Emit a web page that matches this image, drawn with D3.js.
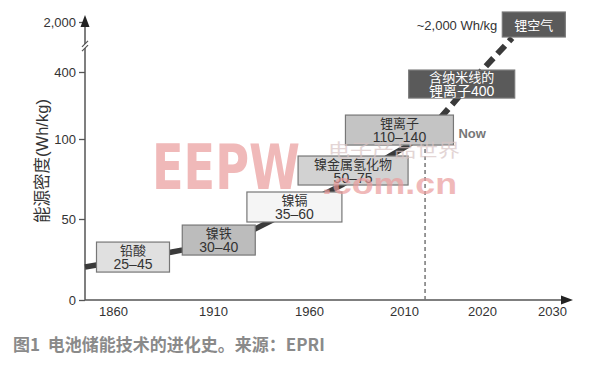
<!DOCTYPE html>
<html>
<head>
<meta charset="utf-8">
<script src="https://cdn.jsdelivr.net/npm/d3@7"></script>
<style>
  body { margin: 0; background: #fff; }
  svg text { font-family: "Liberation Sans", "Noto Sans CJK SC", sans-serif; }
</style>
</head>
<body>
<svg id="chart" width="593" height="370"></svg>
<script>
// axis ticks
var xTicks = [1860, 1910, 1960, 2010, 2020, 2030];
var yTicks = [0, 50, 100, 400, 2000];

// battery technology boxes (centre year / centre value)
var techLine1 = ["铅酸", "镍铁", "镍镉", "镍金属氢化物", "锂离子", "含纳米线的", "锂空气"];
var techLine2 = ["25–45", "30–40", "35–60", "50–75", "110–140", "锂离子400", ""];
var techYears = [1870, 1913, 1952.4, 1983.2, 2007.6, 2017.4, 2027.4];
var techValues = [26.5, 37, 57.5, 80.3, 140, 346, 1920];

// trend line, solid part then projected (dashed) part
var trendYears = [1846, 1889.5, 1895, 1931.9, 1977.4, 2002.6, 2010.4, 2013.3];
var trendValues = [20.4, 29.6, 30.9, 43.8, 71.3, 89.4, 95.6, 140.3];
var futureYears = [2013.3, 2019.8, 2024.3];
var futureValues = [140.3, 400, 1488];

var nowYear = 2012.7;

var svg = d3.select("#chart");

// both axes are broken / uneven, so piecewise scales
var x = d3.scaleLinear()
    .domain([1846, 1860, 1910, 1960, 2010, 2020, 2030, 2034])
    .range([85, 113, 213, 309, 404, 482, 552, 573]);
var y = d3.scaleLinear()
    .domain([0, 50, 100, 400, 2000, 2300])
    .range([300, 219, 139, 72, 22, 15]);

var boxW = [73, 73, 95, 110, 108, 106, 63];
var boxH = [30, 30, 30, 29, 30, 28, 25];
var boxFill = ["#e0e0e0", "#bcbcbc", "#f5f5f5", "#d2d2d2", "#c4c4c4", "#5a5a5a", "#5a5a5a"];
var boxText = ["#333", "#333", "#333", "#333", "#333", "#fff", "#fff"];

var axisCol = "#555";

// x axis
var gx = svg.append("g")
    .attr("transform", "translate(0," + y(0) + ")")
    .call(d3.axisBottom(x).tickValues(xTicks).tickSize(0).tickPadding(7).tickFormat(d3.format("d")));
gx.select(".domain").remove();
gx.selectAll("text").style("font-size", "13px").attr("fill", "#333");

// y axis
var gy = svg.append("g")
    .attr("transform", "translate(" + x(1846) + ",0)")
    .call(d3.axisLeft(y).tickValues(yTicks).tickSize(6).tickPadding(3).tickFormat(d3.format(",")));
gy.select(".domain").remove();
gy.selectAll("line").attr("stroke", axisCol).attr("stroke-width", 1.3);
gy.selectAll("text").style("font-size", "13px").attr("fill", "#333");

svg.append("line")
    .attr("x1", x(1846)).attr("x2", x(2034) - 8)
    .attr("y1", y(0)).attr("y2", y(0))
    .attr("stroke", axisCol).attr("stroke-width", 1.5);
svg.append("line")
    .attr("x1", x(1846)).attr("x2", x(1846))
    .attr("y1", y(0)).attr("y2", y(2300) + 8)
    .attr("stroke", axisCol).attr("stroke-width", 1.5);

// arrow heads
svg.append("path")
    .attr("d", "M" + x(2034) + "," + y(0) + "l-12,-4.5l0,9z")
    .attr("fill", "#222");
svg.append("path")
    .attr("d", "M" + x(1846) + "," + y(2300) + "l-4.5,12l9,0z")
    .attr("fill", "#222");

// axis break between 400 and 2000
var by = (y(400) + y(2000)) / 2 - 1;
svg.append("rect").attr("x", x(1846) - 4).attr("y", by - 2).attr("width", 8).attr("height", 4).attr("fill", "#fff");
[-2.2, 2.2].forEach(function (o) {
    svg.append("line")
        .attr("x1", x(1846) - 3).attr("y1", by + o + 3)
        .attr("x2", x(1846) + 3).attr("y2", by + o - 3)
        .attr("stroke", axisCol).attr("stroke-width", 1.2);
});

// y axis title
svg.append("text")
    .attr("transform", "translate(48,161) rotate(-90)")
    .attr("text-anchor", "middle")
    .style("font-size", "16.5px")
    .attr("fill", "#333")
    .text("能源密度(Wh/kg)");

// "now" marker
var liIon = 4;
svg.append("line")
    .attr("x1", x(nowYear)).attr("x2", x(nowYear))
    .attr("y1", y(0)).attr("y2", y(techValues[liIon]) + boxH[liIon] / 2)
    .attr("stroke", "#777").attr("stroke-width", 1.5)
    .attr("stroke-dasharray", "4,3");

// trend line
var line = d3.line()
    .x(function (d) { return x(d[0]); })
    .y(function (d) { return y(d[1]); });

svg.append("path")
    .datum(trendYears.map(function (d, i) { return [d, trendValues[i]]; }))
    .attr("d", line)
    .attr("fill", "none").attr("stroke", "#3a3a3a").attr("stroke-width", 5.5);
svg.append("path")
    .datum(futureYears.map(function (d, i) { return [d, futureValues[i]]; }))
    .attr("d", line)
    .attr("fill", "none").attr("stroke", "#3a3a3a").attr("stroke-width", 6)
    .attr("stroke-dasharray", "11,6");

// boxes
var boxes = svg.selectAll(".tech")
    .data(techLine1)
    .enter().append("g")
    .attr("class", "tech")
    .attr("transform", function (d, i) {
        return "translate(" + x(techYears[i]) + "," + y(techValues[i]) + ")";
    });

boxes.append("rect")
    .attr("x", function (d, i) { return -boxW[i] / 2; })
    .attr("y", function (d, i) { return -boxH[i] / 2; })
    .attr("width", function (d, i) { return boxW[i]; })
    .attr("height", function (d, i) { return boxH[i]; })
    .attr("fill", function (d, i) { return boxFill[i]; })
    .attr("stroke", "#777").attr("stroke-width", 1.2);

boxes.append("text")
    .attr("text-anchor", "middle")
    .attr("y", function (d, i) { return techLine2[i] ? -2 : 5; })
    .style("font-size", "13px")
    .style("font-family", "'Noto Sans CJK SC', sans-serif")
    .attr("fill", function (d, i) { return boxText[i]; })
    .text(function (d) { return d; });

boxes.append("text")
    .attr("text-anchor", "middle")
    .attr("y", 12)
    .style("font-size", "14px")
    .attr("fill", function (d, i) { return boxText[i]; })
    .text(function (d, i) { return techLine2[i]; });

svg.append("text")
    .attr("x", x(techYears[6]) - boxW[6] / 2 - 5)
    .attr("y", y(techValues[6]) + 5)
    .attr("text-anchor", "end")
    .style("font-size", "13px")
    .attr("fill", "#333")
    .text("~2,000 Wh/kg");

svg.append("text")
    .attr("x", x(techYears[liIon]) + boxW[liIon] / 2 + 5)
    .attr("y", y(techValues[liIon]) + 8)
    .style("font-size", "13px").style("font-weight", "bold")
    .attr("fill", "#777")
    .text("Now");

// watermark
var wm = svg.append("g").attr("opacity", 0.7);
wm.append("text")
    .attr("x", 152).attr("y", 189)
    .attr("textLength", 148).attr("lengthAdjust", "spacingAndGlyphs")
    .style("font-size", "62px").style("font-weight", "bold")
    .style("font-family", "'DejaVu Sans Condensed', 'DejaVu Sans', sans-serif")
    .attr("fill", "#eb9c9c")
    .text("EEPW");
wm.append("text")
    .attr("x", 322).attr("y", 194)
    .attr("textLength", 135).attr("lengthAdjust", "spacingAndGlyphs")
    .style("font-size", "30px").style("font-weight", "bold")
    .attr("fill", "#eb9c9c")
    .text(".com.cn");
wm.append("text")
    .attr("x", 328).attr("y", 157)
    .attr("textLength", 132).attr("lengthAdjust", "spacingAndGlyphs")
    .style("font-size", "18px")
    .style("font-family", "'Noto Sans CJK SC', sans-serif")
    .attr("fill", "#d8c4c4")
    .text("电子产品世界");

// caption
svg.append("text")
    .attr("x", 13).attr("y", 351)
    .style("font-size", "17px").style("font-weight", "bold")
    .style("font-family", "'Noto Sans CJK SC', sans-serif")
    .attr("fill", "#8a8a8a")
    .text("图1\u00a0\u00a0电池储能技术的进化史。来源：EPRI");
</script>
</body>
</html>
